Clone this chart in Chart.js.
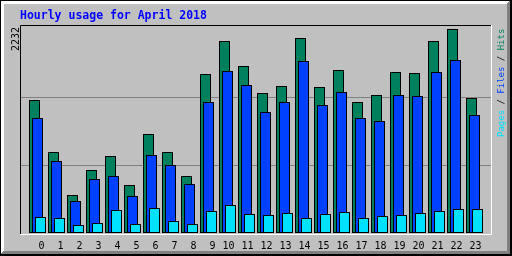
<!DOCTYPE html>
<html>
<head>
<meta charset="utf-8">
<script src="https://cdn.jsdelivr.net/npm/chart.js@4/dist/chart.umd.min.js"></script>
<style>
  html, body { margin: 0; padding: 0; background: #c0c0c0; }
  canvas { display: block; }
</style>
</head>
<body>
<canvas id="hourlyChart" width="512" height="256"></canvas>
<script>
// Hourly usage, April 2018
const hours = [0, 1, 2, 3, 4, 5, 6, 7, 8, 9, 10, 11, 12, 13, 14, 15, 16, 17, 18, 19, 20, 21, 22, 23];
const hits  = [1450, 882, 412, 685, 838, 521, 1078, 882, 619, 1734, 2095, 1822,
               1526, 1603, 2138, 1592, 1778, 1428, 1505, 1756, 1745, 2095, 2232, 1472];
const files = [1253, 783, 346, 587, 619, 401, 849, 740, 532, 1428, 1767, 1614,
               1319, 1428, 1876, 1395, 1537, 1253, 1220, 1505, 1494, 1756, 1887, 1286];
const pages = [171, 160, 87, 109, 248, 95, 270, 128, 95, 237, 302, 204,
               193, 215, 160, 204, 226, 160, 182, 193, 215, 237, 259, 259];

const MONO = "'DejaVu Sans Mono', monospace";
const HIT_COLOR = '#00805c';
const FILE_COLOR = '#0040ff';
const PAGE_COLOR = '#00e0ff';

const maxHits = Math.max(...hits);

// x range: 19px per hour over a 471px plot
const xMin = -17.5 / 19;
const xMax = xMin + 471 / 19;

// grey 3D frame round the whole image
const bevel = {
    id: 'bevel',
    beforeDraw(chart) {
        const ctx = chart.ctx;
        const w = chart.width, h = chart.height;
        ctx.save();
        ctx.fillStyle = '#000000';
        ctx.fillRect(0, 0, w, h);
        ctx.fillStyle = '#ffffff';
        ctx.beginPath();
        ctx.moveTo(1, 1); ctx.lineTo(w - 2, 1); ctx.lineTo(w - 5, 4);
        ctx.lineTo(4, 4); ctx.lineTo(4, h - 5); ctx.lineTo(1, h - 2);
        ctx.closePath(); ctx.fill();
        ctx.fillStyle = '#808080';
        ctx.beginPath();
        ctx.moveTo(w - 2, 1); ctx.lineTo(w - 2, h - 2); ctx.lineTo(1, h - 2);
        ctx.lineTo(4, h - 5); ctx.lineTo(w - 5, h - 5); ctx.lineTo(w - 5, 4);
        ctx.closePath(); ctx.fill();
        ctx.fillStyle = '#c0c0c0';
        ctx.fillRect(4, 4, w - 9, h - 9);
        ctx.restore();
    }
};

// draw hits first, pages last (so pages sit on top)
const drawOrder = {
    id: 'drawOrder',
    beforeDatasetsDraw(chart) {
        chart.data.datasets.forEach((d, i) => chart.getDatasetMeta(i).controller.draw());
        return false;
    }
};

// inset plot frame, max label and the rotated legend
const decorations = {
    id: 'decorations',
    afterDraw(chart) {
        const ctx = chart.ctx;
        const a = chart.chartArea;
        ctx.save();
        ctx.lineWidth = 1;
        ctx.strokeStyle = '#000000';
        ctx.beginPath();
        ctx.moveTo(a.left + 0.5, a.bottom + 2);
        ctx.lineTo(a.left + 0.5, a.top + 0.5);
        ctx.lineTo(a.right + 1, a.top + 0.5);
        ctx.stroke();
        ctx.strokeStyle = '#ffffff';
        ctx.beginPath();
        ctx.moveTo(a.left, a.bottom + 1.5);
        ctx.lineTo(a.right + 0.5, a.bottom + 1.5);
        ctx.lineTo(a.right + 0.5, a.top);
        ctx.stroke();

        // max value, rotated, on the left
        ctx.font = '10px ' + MONO;
        ctx.fillStyle = '#000000';
        ctx.textBaseline = 'alphabetic';
        ctx.translate(a.left - 1.5, a.top + 2);
        ctx.rotate(-Math.PI / 2);
        ctx.textAlign = 'right';
        ctx.fillText(String(maxHits), 0, 0);
        ctx.restore();

        // legend on the right
        ctx.save();
        ctx.font = '9px ' + MONO;
        ctx.textBaseline = 'alphabetic';
        ctx.textAlign = 'left';
        ctx.translate(a.right + 12.5, 137);
        ctx.rotate(-Math.PI / 2);
        const parts = [['Pages', PAGE_COLOR], [' / ', '#000000'], ['Files', FILE_COLOR],
                       [' / ', '#000000'], ['Hits', HIT_COLOR]];
        let x = 0;
        parts.forEach(([t, c]) => {
            ctx.fillStyle = c;
            ctx.fillText(t, x, 0);
            x += ctx.measureText(t).width;
        });
        ctx.restore();
    }
};

function series(values) {
    return values.map((v, i) => ({ x: hours[i], y: v }));
}

const barStyle = {
    borderColor: '#000000',
    borderWidth: 1,
    borderSkipped: false,
    categoryPercentage: 9 / 19,
    barPercentage: 11 / 3
};

new Chart(document.getElementById('hourlyChart'), {
    type: 'bar',
    data: {
        datasets: [
            { label: 'Hits', data: series(hits), backgroundColor: HIT_COLOR, ...barStyle },
            { label: 'Files', data: series(files), backgroundColor: FILE_COLOR, ...barStyle },
            { label: 'Pages', data: series(pages), backgroundColor: PAGE_COLOR, ...barStyle }
        ]
    },
    options: {
        responsive: false,
        animation: false,
        events: [],
        layout: { padding: { left: 20, right: 21, top: 0, bottom: 0 } },
        scales: {
            x: {
                type: 'linear',
                min: xMin,
                max: xMax,
                offset: false,
                afterBuildTicks: s => { s.ticks = hours.map(v => ({ value: v })); },
                afterFit: s => { s.height = 23; },
                grid: { display: false, drawTicks: false },
                border: { display: false },
                ticks: {
                    color: '#000000',
                    font: { family: MONO, size: 10 },
                    align: 'end',
                    labelOffset: 7,
                    padding: 7,
                    maxRotation: 0,
                    autoSkip: false
                }
            },
            y: {
                min: 0,
                max: 2275,
                alignToPixels: true,
                afterBuildTicks: s => { s.ticks = [{ value: maxHits / 3 }, { value: maxHits * 2 / 3 }]; },
                afterFit: s => { s.width = 0; },
                grid: { color: '#808080', drawTicks: false },
                border: { display: false },
                ticks: { display: false }
            }
        },
        plugins: {
            legend: { display: false },
            tooltip: { enabled: false },
            title: {
                display: true,
                text: 'Hourly usage for April 2018',
                align: 'start',
                color: '#0000ff',
                font: { family: MONO, size: 11.5, weight: 'bold', lineHeight: '14px' },
                padding: { top: 9, bottom: 2 }
            }
        }
    },
    plugins: [bevel, drawOrder, decorations]
});
</script>
</body>
</html>
